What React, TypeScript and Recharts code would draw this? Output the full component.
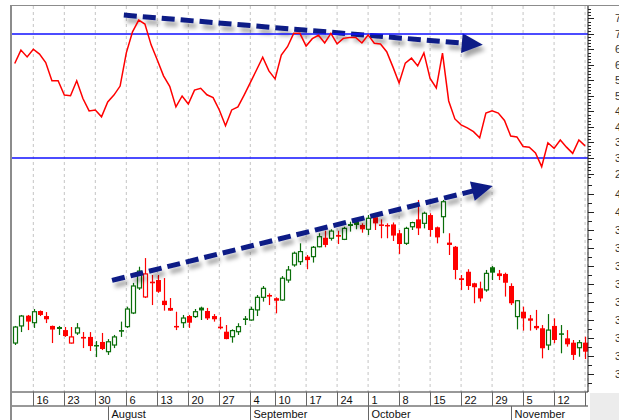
import React from 'react';
import { ComposedChart, Line, Bar, XAxis, YAxis, CartesianGrid, ReferenceLine } from 'recharts';

const dates = [
  'Jul 11', 'Jul 12', 'Jul 13', 'Jul 16', 'Jul 17', 'Jul 18', 'Jul 19', 'Jul 20', 'Jul 23', 'Jul 24',
  'Jul 25', 'Jul 26', 'Jul 27', 'Jul 30', 'Jul 31', 'Aug 1', 'Aug 2', 'Aug 3', 'Aug 6', 'Aug 7',
  'Aug 8', 'Aug 9', 'Aug 10', 'Aug 13', 'Aug 14', 'Aug 15', 'Aug 16', 'Aug 17', 'Aug 20', 'Aug 21',
  'Aug 22', 'Aug 23', 'Aug 24', 'Aug 27', 'Aug 28', 'Aug 29', 'Aug 30', 'Aug 31', 'Sep 4', 'Sep 5',
  'Sep 6', 'Sep 7', 'Sep 10', 'Sep 11', 'Sep 12', 'Sep 13', 'Sep 14', 'Sep 17', 'Sep 18', 'Sep 19',
  'Sep 20', 'Sep 21', 'Sep 24', 'Sep 25', 'Sep 26', 'Sep 27', 'Sep 28', 'Oct 1', 'Oct 2', 'Oct 3',
  'Oct 4', 'Oct 5', 'Oct 8', 'Oct 9', 'Oct 10', 'Oct 11', 'Oct 12', 'Oct 15', 'Oct 16', 'Oct 17',
  'Oct 18', 'Oct 19', 'Oct 22', 'Oct 23', 'Oct 24', 'Oct 25', 'Oct 26', 'Oct 29', 'Oct 30', 'Oct 31',
  'Nov 1', 'Nov 2', 'Nov 5', 'Nov 6', 'Nov 7', 'Nov 8', 'Nov 9', 'Nov 12', 'Nov 13', 'Nov 14',
  'Nov 15', 'Nov 16', 'Nov 19',
];

const opens = [
  32.72, 33.67, 34.24, 33.85, 34.5, 34.22, 33.67, 33.61, 33.44, 32.72,
  33.28, 33.06, 33.06, 32.61, 32.78, 32.24, 32.61, 33.44, 33.63, 34.39,
  35.78, 35.28, 36.13, 36.22, 35.07, 34.67, 33.67, 33.85, 34.22, 34.19,
  34.69, 34.5, 34.22, 33.63, 33.35, 33.07, 33.35, 34.09, 34.0, 34.56,
  35.26, 35.39, 35.21, 35.11, 36.22, 37.06, 37.24, 37.52, 37.52, 38.07,
  38.57, 38.54, 38.72, 38.48, 39.33, 39.46, 39.28, 39.04, 39.71, 39.31,
  39.28, 39.31, 38.82, 38.26, 39.18, 39.59, 39.37, 39.83, 39.15, 39.74,
  38.3, 38.07, 36.32, 36.68, 36.04, 35.76, 35.67, 36.93, 36.59, 36.56,
  35.89, 34.19, 34.46, 34.09, 33.67, 33.54, 32.61, 33.67, 33.26, 32.98,
  32.74, 32.46, 32.74,
];

const highs = [
  33.67, 34.28, 34.28, 34.61, 34.53, 34.44, 33.69, 33.67, 33.61, 33.61,
  33.83, 33.33, 33.33, 32.83, 33.28, 32.94, 33.17, 33.91, 34.74, 36.06,
  36.96, 37.44, 36.5, 36.5, 36.33, 35.22, 34.46, 34.28, 34.28, 34.61,
  34.74, 34.67, 34.33, 34.17, 33.72, 33.48, 33.82, 34.22, 34.74, 35.39,
  35.89, 35.48, 35.26, 36.44, 37.0, 37.8, 38.26, 37.61, 38.11, 38.82,
  38.96, 39.04, 38.96, 39.18, 39.46, 39.56, 39.37, 39.83, 39.74, 39.59,
  39.37, 39.42, 39.0, 39.18, 39.46, 40.67, 40.02, 39.93, 39.19, 40.67,
  38.82, 38.11, 36.5, 36.82, 36.07, 36.13, 36.78, 37.0, 36.78, 36.63,
  36.04, 35.11, 34.74, 34.28, 34.56, 33.72, 34.33, 34.09, 33.72, 33.44,
  32.89, 32.89, 33.07,
];

const lows = [
  32.61, 33.33, 33.44, 33.56, 34.22, 33.83, 32.72, 33.17, 33.06, 32.69,
  33.17, 32.44, 32.28, 31.94, 32.33, 32.06, 32.44, 33.06, 33.56, 34.33,
  35.67, 35.22, 34.83, 35.51, 34.52, 34.5, 33.44, 33.56, 33.56, 34.11,
  34.0, 34.0, 33.91, 33.48, 32.93, 32.74, 33.17, 33.72, 33.96, 34.22,
  35.02, 34.83, 34.37, 35.07, 36.07, 36.96, 37.06, 36.82, 37.19, 38.04,
  38.04, 38.41, 38.22, 38.44, 38.91, 39.04, 38.85, 38.72, 39.0, 38.54,
  38.54, 38.39, 37.67, 38.17, 39.0, 38.72, 39.09, 38.63, 38.26, 38.82,
  37.61, 36.26, 35.67, 35.67, 34.93, 35.02, 35.57, 36.22, 36.22, 35.3,
  34.83, 33.48, 33.41, 33.41, 33.44, 31.87, 32.33, 32.71, 32.15, 32.52,
  31.78, 31.96, 31.83,
];

const closes = [
  33.61, 34.22, 33.91, 34.46, 34.28, 34.04, 33.47, 33.5, 33.11, 33.06,
  33.56, 32.97, 32.55, 32.57, 32.39, 32.79, 33.06, 33.35, 34.61, 35.89,
  36.72, 36.56, 36.04, 35.57, 34.83, 34.52, 33.59, 34.11, 33.85, 34.46,
  34.53, 34.09, 34.04, 33.54, 32.94, 33.41, 33.63, 34.0, 34.59, 35.26,
  35.76, 35.3, 35.07, 36.32, 36.78, 37.71, 37.8, 37.33, 38.04, 38.63,
  38.17, 38.94, 38.63, 39.09, 39.22, 39.28, 39.04, 39.65, 39.37, 39.25,
  39.22, 38.69, 38.22, 39.09, 39.41, 39.09, 39.93, 39.0, 38.59, 40.57,
  38.17, 36.78, 36.22, 35.89, 35.82, 35.2, 36.59, 36.63, 36.44, 36.07,
  34.93, 35.07, 34.09, 33.96, 33.54, 32.43, 33.44, 32.89, 33.2, 32.65,
  32.06, 32.74, 32.24,
];

const rsiValues = [
  60.5, 64.8, 62.6, 65.1, 63.5, 60.8, 54.9, 54.9, 50.3, 50.1,
  54.9, 49.2, 45.2, 45.5, 43.3, 48.1, 50.3, 53.2, 63.9, 70.7,
  74.5, 73.2, 66.5, 61.6, 56.5, 53.1, 46.5, 50.0, 47.4, 51.9,
  52.5, 50.4, 49.5, 45.5, 40.4, 45.5, 46.5, 50.3, 54.3, 58.4,
  62.5, 58.1, 55.5, 63.2, 65.9, 70.2, 70.2, 66.1, 68.5, 69.6,
  67.1, 70.2, 66.8, 68.6, 68.9, 68.9, 67.1, 69.7, 67.0, 66.8,
  64.3, 59.4, 54.2, 60.6, 62.2, 59.7, 63.9, 55.7, 52.6, 63.8,
  48.4, 42.6, 40.7, 39.7, 38.5, 36.5, 44.5, 45.2, 44.5, 42.1,
  37.1, 36.8, 33.7, 33.5, 31.6, 27.2, 34.9, 33.1, 35.8, 33.5,
  31.5, 35.8, 33.9,
];

const weekTicks = [3, 8, 13, 18, 23, 28, 33, 38, 42, 47, 52, 57, 62, 67, 72, 77, 82, 87, 92];
const weekLabels = ['16', '23', '30', '6', '13', '20', '27', '4', '10', '17', '24', '1', '8', '15', '22', '29', '5', '12', '19'];
const monthTicks = [15, 38, 57, 80];
const monthLabels = ['August', 'September', 'October', 'November'];

const rsiBands = [70, 30];
const rsiTickValues = Array.from({ length: 55 }, (_, k) => 24 + k);
const priceTickValues = Array.from({ length: 23 }, (_, k) => 30.5 + k * 0.5);

const rsiTrend = [{ x: 17.6, y: 76.1 }, { x: 75.5, y: 66.5 }];
const priceTrend = [{ x: 15.7, y: 36.2 }, { x: 77.1, y: 41.44 }];

const data = dates.map((d, i) => ({
  i,
  date: d,
  open: opens[i],
  high: highs[i],
  low: lows[i],
  close: closes[i],
  prevClose: i > 0 ? closes[i - 1] : null,
  rsi: rsiValues[i],
}));

const FONT = '"Liberation Sans", Arial, sans-serif';
const GREEN = '#0a6e0a';
const RED = '#ff0000';
const NAVY = '#0b1a86';

const Candle = (p: any) => {
  const { x, y, width, height, payload } = p;
  if (payload == null || height == null) return null;
  const { open, close, high, low, prevClose } = payload;
  const cx = Math.round(x + width / 2);
  const k = height / (high - low);
  const yo = y + (high - open) * k;
  const yc = y + (high - close) * k;
  const up = close >= open;
  const green = prevClose == null || close >= prevClose;
  const col = green ? GREEN : RED;
  const top = Math.min(yo, yc);
  const bh = Math.max(Math.abs(yo - yc), 1.5);
  return (
    <g>
      <line x1={cx + 0.5} y1={y} x2={cx + 0.5} y2={y + height} stroke={col} strokeWidth={1.2} />
      {up ? (
        <rect x={cx - 1.5} y={top} width={4} height={Math.max(bh, 2)} fill="#ffffff" stroke={col} strokeWidth={1.2} />
      ) : (
        <rect x={cx - 2} y={top} width={5} height={bh} fill={col} />
      )}
    </g>
  );
};

const makeArrow = (id: string) => (p: any) => {
  const { x1, y1, x2, y2 } = p;
  if ([x1, y1, x2, y2].some((v) => v == null || isNaN(v))) return null;
  const dx = x2 - x1;
  const dy = y2 - y1;
  const len = Math.hypot(dx, dy);
  const ux = dx / len;
  const uy = dy / len;
  const head = 21;
  const half = 10;
  const bx = x2 - ux * head;
  const by = y2 - uy * head;
  const px = -uy;
  const py = ux;
  return (
    <g>
      <defs>
        <filter id={id} filterUnits="userSpaceOnUse" x={0} y={0} width={619} height={420}>
          <feDropShadow dx={3} dy={5} stdDeviation={2} floodColor="#000" floodOpacity={0.35} />
        </filter>
      </defs>
      <g filter={`url(#${id})`}>
        <line x1={x1} y1={y1} x2={bx + ux * 2} y2={by + uy * 2} stroke={NAVY} strokeWidth={5} strokeDasharray="13 6" />
        <polygon
          points={`${x2},${y2} ${bx + px * half},${by + py * half} ${bx - px * half},${by - py * half}`}
          fill={NAVY}
        />
      </g>
    </g>
  );
};

const DayTick = (p: any) => {
  const { x, y, payload } = p;
  const idx = weekTicks.indexOf(payload.value);
  const label = idx >= 0 ? weekLabels[idx] : '';
  const lx = Math.round(x) + 0.5;
  return (
    <g>
      <line x1={lx} y1={y} x2={lx} y2={y + 14} stroke="#666" strokeWidth={1} />
      {payload.value < 90 && (
        <text x={lx + 3} y={y + 11.5} fontSize={11} fontFamily={FONT} fill="#111">
          {label}
        </text>
      )}
    </g>
  );
};

const MonthTick = (p: any) => {
  const { x, y, payload } = p;
  const idx = monthTicks.indexOf(payload.value);
  const label = idx >= 0 ? monthLabels[idx] : '';
  const lx = Math.round(x) + 0.5;
  return (
    <g>
      <line x1={lx} y1={y} x2={lx} y2={y + 14} stroke="#666" strokeWidth={1} />
      <text x={lx + 3} y={y + 11.5} fontSize={11} fontFamily={FONT} fill="#111">
        {label}
      </text>
    </g>
  );
};

const RsiTick = (p: any) => {
  const { x, y, payload } = p;
  const v = payload.value;
  const major = v % 5 === 0;
  const ly = Math.round(y) + 0.5;
  const ax = x - 1;
  return (
    <g>
      <line x1={ax} y1={ly} x2={ax + (major ? 6 : 3)} y2={ly} stroke="#222" strokeWidth={1} />
      {major && v >= 25 && v <= 75 && (
        <text x={ax + 27} y={y + 4} fontSize={11} fontFamily={FONT} fill="#333">
          {v}
        </text>
      )}
    </g>
  );
};

const PriceTick = (p: any) => {
  const { x, y, payload } = p;
  const v = payload.value;
  const major = Math.abs(v - Math.round(v)) < 1e-6;
  const ly = Math.round(y) + 0.5;
  return (
    <g>
      <line x1={x} y1={ly} x2={x + (major ? 6 : 4)} y2={ly} stroke="#222" strokeWidth={1} />
      {major && v >= 31 && v <= 41 && (
        <text x={x + 27} y={y + 4} fontSize={11} fontFamily={FONT} fill="#333">
          {v}
        </text>
      )}
    </g>
  );
};

export default function App() {
  return (
    <div
      style={{
        position: 'absolute',
        left: 0,
        top: 0,
        width: 619,
        height: 420,
        overflow: 'hidden',
        background: '#ffffff',
        fontFamily: FONT,
      }}
    >
      <ComposedChart
        width={619}
        height={420}
        data={data}
        margin={{ top: 6, right: 0, bottom: 0, left: 11 }}
      >
        <CartesianGrid
          horizontal={false}
          vertical
          stroke="#c4c4c4"
          strokeDasharray="3 3"
          yAxisId="price"
        />
        <XAxis
          dataKey="i"
          type="number"
          domain={[-0.6, 92.47]}
          allowDataOverflow
          ticks={weekTicks}
          interval={0}
          height={14}
          tickSize={0}
          tickMargin={0}
          tick={<DayTick />}
          axisLine={{ stroke: '#333' }}
          tickLine={false}
        />
        <XAxis
          xAxisId="m"
          dataKey="i"
          type="number"
          domain={[-0.6, 92.47]}
          allowDataOverflow
          ticks={monthTicks}
          interval={0}
          height={14}
          tickSize={0}
          tickMargin={0}
          tick={<MonthTick />}
          axisLine={{ stroke: '#333' }}
          tickLine={false}
        />
        <YAxis
          yAxisId="price"
          orientation="right"
          type="number"
          domain={[30, 51.444]}
          allowDataOverflow
          ticks={priceTickValues}
          interval={0}
          width={1}
          tickSize={0}
          tickMargin={0}
          tick={<PriceTick />}
          axisLine={{ stroke: '#222' }}
          tickLine={false}
        />
        <YAxis
          yAxisId="rsi"
          orientation="right"
          type="number"
          domain={[-45.48, 79.03]}
          allowDataOverflow
          ticks={rsiTickValues}
          interval={0}
          width={30}
          tickSize={0}
          tickMargin={0}
          tick={<RsiTick />}
          axisLine={false}
          tickLine={false}
        />
        <ReferenceLine
          yAxisId="rsi"
          segment={rsiTrend}
          ifOverflow="visible"
          shape={makeArrow('shadowTop')}
        />
        <ReferenceLine
          yAxisId="price"
          segment={priceTrend}
          ifOverflow="visible"
          shape={makeArrow('shadowBottom')}
        />
        {rsiBands.map((b) => (
          <ReferenceLine key={b} yAxisId="rsi" y={b} stroke="#1010ff" strokeWidth={1.6} />
        ))}
        <Line
          yAxisId="rsi"
          dataKey="rsi"
          type="linear"
          stroke="#ff0000"
          strokeWidth={1.5}
          dot={false}
          activeDot={false}
          isAnimationActive={false}
        />
        <Bar
          yAxisId="price"
          dataKey={(d: any) => [d.low, d.high]}
          barSize={5}
          shape={<Candle />}
          isAnimationActive={false}
        />
      </ComposedChart>
      <div style={{ position: 'absolute', left: 10, top: 5, width: 609, height: 1, background: '#8c8c8c' }} />
      <div style={{ position: 'absolute', left: 10, top: 5, width: 2, height: 415, background: '#8c8c8c' }} />
      <div style={{ position: 'absolute', left: 590, top: 393, width: 29, height: 27, background: '#ececec' }} />
    </div>
  );
}
